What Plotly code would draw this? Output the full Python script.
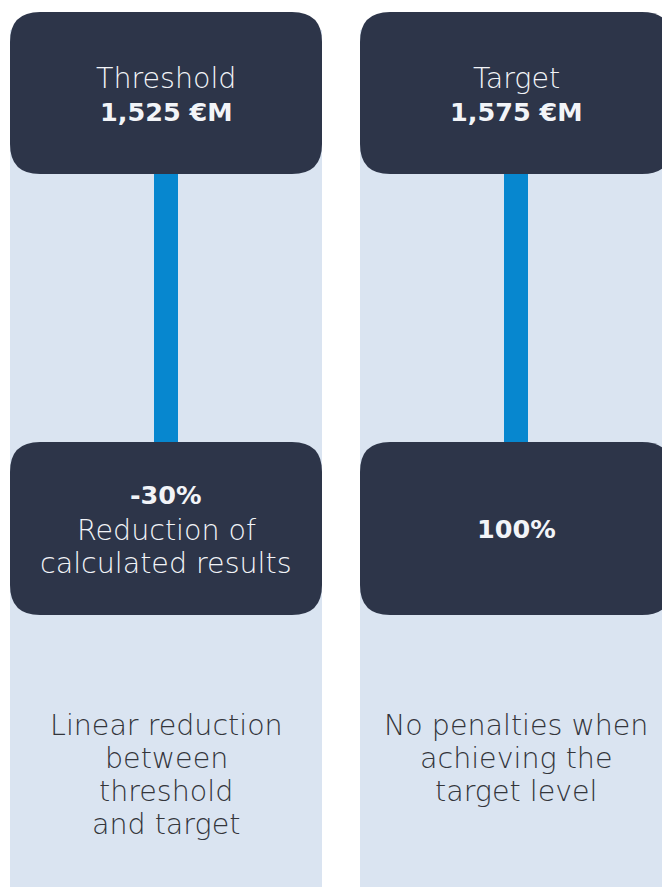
import plotly.graph_objects as go

# ── Content ────────────────────────────────────────────────────────────────────
titles       = ["Threshold", "Target"]
amounts      = ["1,525 €M", "1,575 €M"]
outcome_head = ["-30%", "100%"]
outcome_body = [["Reduction of", "calculated results"], []]
notes        = [
    ["Linear reduction", "between", "threshold", "and target"],
    ["No penalties when", "achieving the", "target level"],
]

# ── Design tokens ──────────────────────────────────────────────────────────────
W, H      = 662, 887
DARK      = "#2d3549"
LIGHT_BG  = "#dae4f1"
BLUE      = "#0787cf"
TXT_LIGHT = "#f2f4f8"
TXT_DARK  = "#33353b"
FONT      = "DejaVu Sans, Open Sans, sans-serif"
LIGHT_SZ  = 28.5
BOLD_SZ   = 25.5
LINE_H    = 33.3

col_left  = [10, 360]
col_w     = 312
radius    = 30


def rounded_rect(x0, y0, x1, y1, r):
    return (
        f"M{x0+r},{y0} L{x1-r},{y0} Q{x1},{y0} {x1},{y0+r} "
        f"L{x1},{y1-r} Q{x1},{y1} {x1-r},{y1} "
        f"L{x0+r},{y1} Q{x0},{y1} {x0},{y1-r} "
        f"L{x0},{y0+r} Q{x0},{y0} {x0+r},{y0} Z"
    )


def label(x, y, text, size, color, weight=200):
    return dict(x=x, y=y, text=text,
                font=dict(size=size, color=color, weight=weight))


shapes, annotations = [], []
for i, x0 in enumerate(col_left):
    x1 = x0 + col_w
    cx = (x0 + x1) / 2
    # column background
    shapes.append(dict(type="rect", x0=x0, x1=x1, y0=30, y1=H,
                       fillcolor=LIGHT_BG, line_width=0, layer="below"))
    # connector
    shapes.append(dict(type="rect", x0=cx - 12, x1=cx + 12, y0=160, y1=455,
                       fillcolor=BLUE, line_width=0))
    # top & bottom boxes
    shapes.append(dict(type="path", path=rounded_rect(x0, 12, x1, 174, radius),
                       fillcolor=DARK, line_width=0))
    shapes.append(dict(type="path", path=rounded_rect(x0, 442, x1, 615, radius),
                       fillcolor=DARK, line_width=0))

    annotations.append(label(cx, 78, titles[i], LIGHT_SZ, TXT_LIGHT))
    annotations.append(label(cx, 112, amounts[i], BOLD_SZ, TXT_LIGHT, 700))

    if outcome_body[i]:
        annotations.append(label(cx, 495, outcome_head[i], BOLD_SZ, TXT_LIGHT, 700))
        for k, line in enumerate(outcome_body[i]):
            annotations.append(label(cx, 530 + k * LINE_H, line, LIGHT_SZ, TXT_LIGHT))
    else:
        annotations.append(label(cx, 529, outcome_head[i], BOLD_SZ, TXT_LIGHT, 700))

    for k, line in enumerate(notes[i]):
        annotations.append(label(cx, 725 + k * LINE_H, line, LIGHT_SZ, TXT_DARK))

for a in annotations:
    a.update(xref="x", yref="y", showarrow=False, xanchor="center",
             yanchor="middle", align="center")

fig = go.Figure()
fig.update_layout(
    width=W, height=H,
    margin=dict(l=0, r=0, t=0, b=0),
    paper_bgcolor="white", plot_bgcolor="white",
    font=dict(family=FONT),
    xaxis=dict(range=[0, W], visible=False, fixedrange=True),
    yaxis=dict(range=[H, 0], visible=False, fixedrange=True),
    shapes=shapes,
    annotations=annotations,
    showlegend=False,
)

# drop the default page margin so the figure sits flush in the window
fig.write_html("out.html", config=dict(displayModeBar=False),
               post_script="document.body.style.margin='0';"
                           "document.body.style.overflow='hidden';")
